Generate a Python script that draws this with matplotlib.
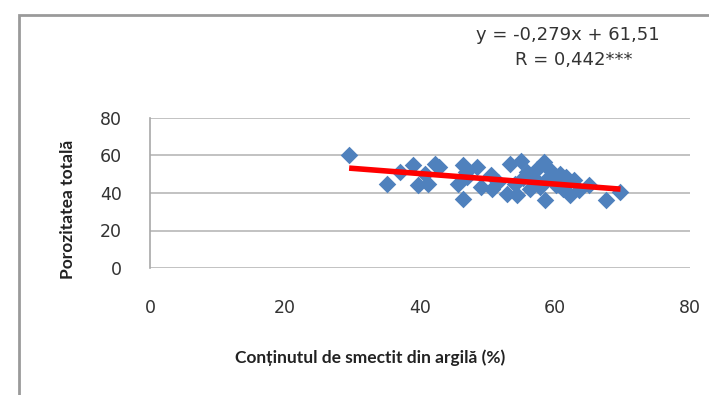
import numpy as np
import matplotlib.pyplot as plt
from matplotlib.patches import Rectangle

plt.rcParams['font.family'] = ['Lato', 'DejaVu Sans']

# smectite content in clay (%) vs total porosity
smectit = [29.5, 35.1, 37.1, 39.0, 39.7, 40.7, 41.2, 42.2, 42.8, 45.6, 46.3, 46.3,
           46.8, 47.0, 48.5, 49.0, 50.5, 50.7, 51.5, 52.9, 53.4, 54.1, 54.4, 54.9,
           55.2, 55.8, 56.3, 56.8, 57.3, 57.8, 58.3, 58.5, 58.8, 59.2, 59.7, 60.2,
           60.7, 61.2, 61.7, 62.2, 62.8, 63.6, 65.1, 67.5, 69.7]
porozitate = [60.5, 45.0, 51.2, 54.7, 44.0, 50.0, 45.0, 55.6, 54.0, 45.0, 54.7, 37.0,
              51.0, 48.5, 53.8, 43.0, 49.4, 42.3, 46.0, 39.6, 55.6, 45.0, 38.8, 57.3,
              48.0, 51.2, 42.0, 48.5, 53.0, 43.2, 56.5, 36.0, 47.5, 52.0, 46.7, 44.0,
              50.3, 42.0, 48.5, 38.8, 47.0, 41.4, 44.0, 36.0, 40.5]

panta, interceptie = -0.279, 61.51
eq_text = 'y = -0,279x + 61,51'
r_text = 'R = 0,442***'

wide = ['DejaVu Sans']

fig = plt.figure(figsize=(7.09, 3.95), dpi=100)

# chart area border (right and bottom run off the image)
fig.patches.append(Rectangle((19 / 709, -0.1), 1.2, 1 - 15 / 395 + 0.1,
                             transform=fig.transFigure, fill=False,
                             edgecolor='#9a9a9a', linewidth=2))

ax = fig.add_axes([150 / 709, 1 - 268 / 395, (690 - 150) / 709, (268 - 118) / 395])
ax.scatter(smectit, porozitate, marker='D', s=80, color='#4f81bd', zorder=3,
           linewidths=0)

xs = np.array([min(smectit), max(smectit)])
ax.plot(xs, panta * xs + interceptie, color='#ff0000', linewidth=4,
        solid_capstyle='butt', zorder=4)

ax.set_xlim(0, 80)
ax.set_ylim(0, 80)
ax.set_xticks([0, 20, 40, 60, 80])
ax.set_yticks([0, 20, 40, 60, 80])
ax.yaxis.grid(True, color='#b8b8b8', linewidth=1.2)
ax.set_axisbelow(True)
for s in ax.spines.values():
    s.set_visible(False)
ax.spines['left'].set_visible(True)
ax.spines['left'].set_color('#a8a8a8')
ax.spines['left'].set_linewidth(1.2)
ax.tick_params(length=0, labelcolor='#333333')
ax.tick_params(axis='x', pad=22)
ax.tick_params(axis='y', pad=20)
for lab in ax.get_xticklabels() + ax.get_yticklabels():
    lab.set_fontfamily(wide)
    lab.set_fontsize(12.5)

ax.set_xlabel('Conținutul de smectit din argilă (%)', fontsize=12.5,
              fontweight='bold', color='#222222')
ax.set_ylabel('Porozitatea totală', fontsize=12.5, fontweight='bold',
              color='#222222')
ax.xaxis.set_label_coords(0.407, -0.6)
ax.yaxis.set_label_coords(-0.152, 0.39)
ax.xaxis.label.set_va('center')
ax.yaxis.label.set_va('center')

fig.text(568 / 709, 1 - 35 / 395, eq_text, ha='center', va='center',
         fontsize=13, color='#333333', family=wide)
fig.text(574 / 709, 1 - 60 / 395, r_text, ha='center', va='center',
         fontsize=13, color='#333333', family=wide)

fig.savefig('out.png', dpi=100, facecolor='white')
